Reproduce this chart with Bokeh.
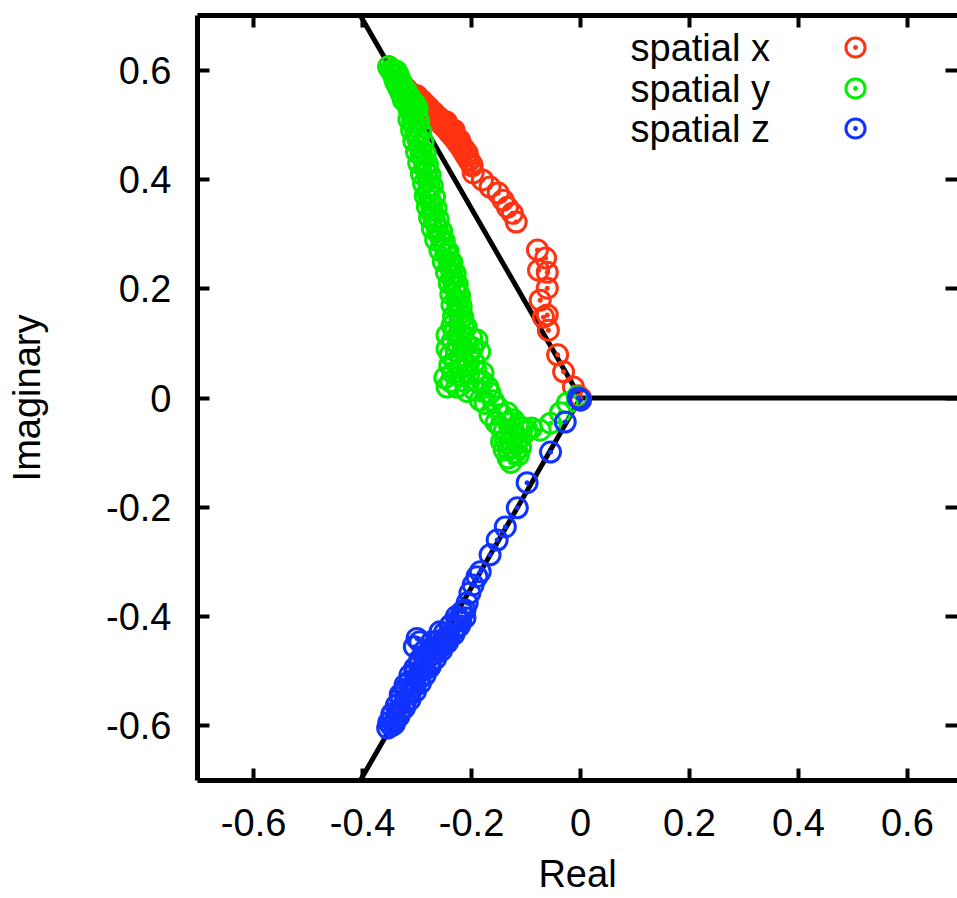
from bokeh.plotting import figure
from bokeh.models import (Range1d, LinearAxis, FixedTicker, CustomJSTickFormatter,
                          Label, Legend, LegendItem)
from bokeh.core.properties import value
from bokeh.embed import file_html
from bokeh.resources import INLINE

# ---------------- data ----------------
x_ticks = [-0.6, -0.4, -0.2, 0, 0.2, 0.4, 0.6]
x_tick_labels = ["-0.6", "-0.4", "-0.2", "0", "0.2", "0.4", "0.6"]
y_ticks = [-0.6, -0.4, -0.2, 0, 0.2, 0.4, 0.6]
y_tick_labels = ["-0.6", "-0.4", "-0.2", "0", "0.2", "0.4", "0.6"]

series_names = ["spatial x", "spatial y", "spatial z"]
series_colors = ["#ff3311", "#00ee00", "#1133ff"]

# Z(3) branch lines in the complex plane
branch_re = [-0.5, 0.0, -0.5]
branch_im = [0.866, 0.0, -0.866]
real_axis_re = [0.0, 1.0]
real_axis_im = [0.0, 0.0]

# spatial x (red)
x_re = [-0.352, -0.346, -0.340, -0.334, -0.327, -0.320, -0.312, -0.304, -0.296, -0.288,
        -0.281, -0.274, -0.267, -0.260, -0.254, -0.248, -0.242, -0.236, -0.230, -0.225,
        -0.220, -0.215, -0.210, -0.205, -0.200, -0.246, -0.232, -0.222,
        -0.300, -0.292, -0.285, -0.278, -0.270, -0.263, -0.256, -0.250, -0.244, -0.238,
        -0.233, -0.228, -0.223, -0.218, -0.213, -0.208,
        -0.290, -0.282, -0.275, -0.268, -0.261, -0.254, -0.247, -0.241, -0.235, -0.229,
        -0.224, -0.219, -0.214, -0.209, -0.204, -0.199,
        -0.197, -0.180, -0.166, -0.151, -0.142, -0.134, -0.125, -0.118,
        -0.079, -0.064, -0.077, -0.061, -0.061, -0.074, -0.061, -0.068, -0.059, -0.042,
        -0.031, -0.013, -0.004, 0.000]
x_im = [0.606, 0.598, 0.590, 0.582, 0.574, 0.566, 0.558, 0.551, 0.544, 0.537,
        0.530, 0.523, 0.516, 0.509, 0.502, 0.495, 0.488, 0.481, 0.474, 0.467,
        0.460, 0.452, 0.444, 0.436, 0.428, 0.505, 0.490, 0.472,
        0.553, 0.545, 0.538, 0.531, 0.523, 0.516, 0.510, 0.503, 0.497, 0.490,
        0.483, 0.476, 0.469, 0.462, 0.455, 0.448,
        0.536, 0.528, 0.521, 0.514, 0.507, 0.500, 0.493, 0.486, 0.479, 0.472,
        0.465, 0.458, 0.450, 0.442, 0.434, 0.425,
        0.412, 0.399, 0.386, 0.375, 0.362, 0.349, 0.338, 0.322,
        0.271, 0.256, 0.234, 0.230, 0.201, 0.179, 0.152, 0.148, 0.124, 0.079,
        0.048, 0.020, 0.004, 0.000]

# spatial y (green)
y_re = [-0.352, -0.348, -0.344, -0.340, -0.336, -0.332, -0.328, -0.324, -0.320, -0.316,
        -0.312, -0.308, -0.313, -0.304, -0.309, -0.300, -0.340, -0.330, -0.325,
        -0.345, -0.338, -0.342, -0.334, -0.338, -0.330, -0.333, -0.325, -0.328, -0.320,
        -0.322, -0.315, -0.318, -0.310, -0.304, -0.315, -0.300,
        -0.315, -0.297, -0.310, -0.293, -0.306, -0.289, -0.301, -0.285, -0.297, -0.281,
        -0.292, -0.276, -0.288, -0.272, -0.285, -0.268, -0.281, -0.265, -0.277, -0.261,
        -0.272, -0.255, -0.266, -0.250, -0.258, -0.243, -0.252, -0.236, -0.246, -0.230,
        -0.241, -0.226, -0.238, -0.222, -0.236, -0.219, -0.233, -0.216, -0.236, -0.214,
        -0.308, -0.304, -0.302, -0.298, -0.296, -0.292, -0.288, -0.285, -0.282, -0.280,
        -0.278, -0.280, -0.276, -0.273, -0.271, -0.267, -0.263, -0.258, -0.252, -0.248,
        -0.245, -0.241, -0.239, -0.236, -0.234, -0.230, -0.227, -0.226, -0.225, -0.222,
        -0.221,
        -0.230, -0.217, -0.225, -0.239, -0.230, -0.203, -0.190, -0.206, -0.234, -0.249,
        -0.227, -0.179, -0.188, -0.215, -0.210, -0.200, -0.220, -0.195, -0.212,
        -0.245, -0.235, -0.222, -0.210, -0.198, -0.185, -0.245, -0.240, -0.228, -0.218,
        -0.205, -0.192, -0.180, -0.170, -0.245, -0.238, -0.218, -0.208, -0.195,
        -0.166, -0.184, -0.153, -0.166, -0.134, -0.147, -0.123, -0.138, -0.125, -0.133,
        -0.114, -0.120, -0.107, -0.140, -0.128, -0.118,
        -0.175, -0.160, -0.145, -0.155, -0.140, -0.130, -0.115, -0.128, -0.112, -0.132,
        -0.120, -0.128, -0.110, -0.145, -0.100, -0.090,
        -0.098, -0.074, -0.055, -0.037, -0.024, -0.006]
y_im = [0.606, 0.600, 0.594, 0.588, 0.582, 0.576, 0.570, 0.563, 0.556, 0.549,
        0.542, 0.535, 0.528, 0.527, 0.518, 0.518, 0.580, 0.560, 0.545,
        0.596, 0.598, 0.588, 0.590, 0.576, 0.580, 0.566, 0.568, 0.555, 0.562,
        0.548, 0.553, 0.540, 0.545, 0.538, 0.530, 0.530,
        0.510, 0.505, 0.490, 0.488, 0.470, 0.468, 0.450, 0.447, 0.430, 0.428,
        0.410, 0.408, 0.392, 0.388, 0.370, 0.368, 0.350, 0.347, 0.330, 0.327,
        0.310, 0.306, 0.290, 0.287, 0.270, 0.268, 0.250, 0.248, 0.230, 0.228,
        0.210, 0.208, 0.190, 0.188, 0.170, 0.168, 0.150, 0.148, 0.132, 0.128,
        0.508, 0.496, 0.484, 0.472, 0.460, 0.448, 0.436, 0.424, 0.412, 0.400,
        0.388, 0.375, 0.362, 0.350, 0.336, 0.322, 0.310, 0.296, 0.284, 0.272,
        0.262, 0.250, 0.240, 0.228, 0.216, 0.204, 0.192, 0.178, 0.166, 0.154,
        0.143,
        0.124, 0.115, 0.097, 0.079, 0.066, 0.082, 0.106, 0.060, 0.046, 0.037,
        0.020, 0.046, 0.029, 0.090, 0.130, 0.110, 0.040, 0.065, 0.030,
        0.115, 0.105, 0.120, 0.100, 0.092, 0.085, 0.090, 0.060, 0.085, 0.070,
        0.045, 0.050, 0.030, 0.020, 0.020, 0.030, 0.055, 0.012, 0.015,
        0.009, -0.004, -0.016, -0.031, -0.027, -0.053, -0.040, -0.077, -0.091, -0.110,
        -0.104, -0.068, -0.055, -0.095, -0.060, -0.085,
        -0.010, -0.005, -0.030, -0.045, -0.060, -0.045, -0.050, -0.078, -0.075, -0.095,
        -0.100, -0.118, -0.090, -0.080, -0.062, -0.055,
        -0.059, -0.059, -0.046, -0.027, -0.009, 0.002]

# spatial z (blue)
z_re = [0.000, -0.004, -0.028, -0.055, -0.098, -0.116, -0.138, -0.153, -0.166, -0.184,
        -0.190, -0.197, -0.203, -0.208, -0.212,
        -0.217, -0.225, -0.230, -0.239, -0.243, -0.252, -0.258, -0.267, -0.273, -0.295,
        -0.285, -0.280, -0.295, -0.304, -0.291, -0.313, -0.304, -0.322, -0.313, -0.331,
        -0.322, -0.337, -0.331, -0.346, -0.341, -0.354, -0.258, -0.276,
        -0.228, -0.212, -0.238, -0.222, -0.250, -0.232, -0.262, -0.244, -0.275, -0.255,
        -0.288, -0.266, -0.296, -0.276, -0.304, -0.285, -0.313, -0.294, -0.322, -0.303,
        -0.330, -0.313, -0.338, -0.323, -0.346, -0.333, -0.352, -0.342, -0.300, -0.305,
        -0.220, -0.231, -0.241, -0.253, -0.265, -0.276, -0.286, -0.295, -0.304, -0.313,
        -0.322, -0.331, -0.339, -0.347]
z_im = [-0.004, 0.000, -0.044, -0.099, -0.155, -0.201, -0.236, -0.260, -0.287, -0.318,
        -0.327, -0.342, -0.357, -0.375, -0.388,
        -0.391, -0.406, -0.421, -0.417, -0.434, -0.443, -0.457, -0.461, -0.446, -0.446,
        -0.461, -0.476, -0.479, -0.494, -0.498, -0.507, -0.519, -0.525, -0.538, -0.543,
        -0.556, -0.562, -0.574, -0.580, -0.593, -0.604, -0.428, -0.488,
        -0.400, -0.402, -0.415, -0.417, -0.430, -0.432, -0.445, -0.447, -0.458, -0.462,
        -0.472, -0.477, -0.488, -0.492, -0.503, -0.507, -0.518, -0.522, -0.533, -0.537,
        -0.548, -0.552, -0.563, -0.567, -0.578, -0.582, -0.594, -0.597, -0.440, -0.455,
        -0.408, -0.423, -0.438, -0.452, -0.467, -0.482, -0.497, -0.512, -0.527, -0.542,
        -0.557, -0.572, -0.587, -0.600]

FONT = "Liberation Sans"
FS = "38px"

p = figure(width=957, height=898,
           x_range=Range1d(-0.703, 0.692), y_range=Range1d(-0.70, 0.70),
           output_backend="svg", toolbar_location=None,
           min_border_left=197, min_border_right=0, min_border_top=15,
           min_border_bottom=118)
p.grid.visible = False
p.background_fill_color = "white"
p.border_fill_color = "white"
p.outline_line_color = None

p.line(branch_re, branch_im, line_color="black", line_width=5)
p.line(real_axis_re, real_axis_im, line_color="black", line_width=5)

renderers = []
for re_, im_, col in [(x_re, x_im, series_colors[0]),
                      (y_re, y_im, series_colors[1]),
                      (z_re, z_im, series_colors[2])]:
    r = p.scatter(re_, im_, marker="circle_dot", size=20, line_color=col,
                  line_width=3, fill_color=None)
    renderers.append(r)

label_code = """
const i = tick_vals.findIndex(t => Math.abs(t - tick) < 1e-9);
return i >= 0 ? tick_strs[i] : '';
"""

def style_axis(ax, ticks, labels, show_labels=True):
    ax.ticker = FixedTicker(ticks=ticks)
    ax.major_tick_in = 12
    ax.major_tick_out = 0
    ax.minor_tick_line_color = None
    ax.axis_line_width = 5
    ax.axis_line_color = "black"
    ax.major_tick_line_width = 4
    ax.major_tick_line_color = "black"
    if show_labels:
        ax.formatter = CustomJSTickFormatter(args=dict(tick_vals=ticks, tick_strs=labels),
                                             code=label_code)
        ax.major_label_text_font = FONT
        ax.major_label_text_font_size = FS
        ax.major_label_text_color = "black"
        ax.axis_label_text_font = FONT
        ax.axis_label_text_font_size = FS
        ax.axis_label_text_font_style = "normal"
        ax.axis_label_text_color = "black"
    else:
        ax.formatter = CustomJSTickFormatter(code="return ''")
        ax.major_label_text_font_size = "1px"
        ax.major_label_standoff = 0

xa = p.xaxis[0]
style_axis(xa, x_ticks, x_tick_labels)
xa.axis_label = "Real"
xa.major_label_standoff = 28
xa.axis_label_standoff = 14

ya = p.yaxis[0]
style_axis(ya, y_ticks, y_tick_labels)
ya.axis_label = "Imaginary"
ya.major_label_standoff = 26
ya.axis_label_standoff = 55

top = LinearAxis()
style_axis(top, x_ticks, None, show_labels=False)
p.add_layout(top, "above")
right = LinearAxis()
style_axis(right, y_ticks, None, show_labels=False)
right.axis_line_color = None
p.add_layout(right, "right")

# legend: text labels + marker-only legends
row_y = [733, 692, 652]
leg_bottom = [709, 668, 628]
for name, ry, lb, r in zip(series_names, row_y, leg_bottom, renderers):
    p.add_layout(Label(x=433, y=ry, x_units="screen", y_units="screen", text=name,
                       text_font=FONT, text_font_size=FS, text_baseline="middle",
                       text_align="left", text_color="black"))
    lg = Legend(items=[LegendItem(label=value(""), renderers=[r])],
                location=(634, lb), glyph_width=48, glyph_height=48,
                label_width=0, label_height=0, label_standoff=0,
                label_text_font_size="1px", padding=0, margin=0, spacing=0,
                border_line_alpha=0, background_fill_alpha=0)
    p.add_layout(lg, "center")

open("out.html", "w").write(file_html(p, INLINE))
